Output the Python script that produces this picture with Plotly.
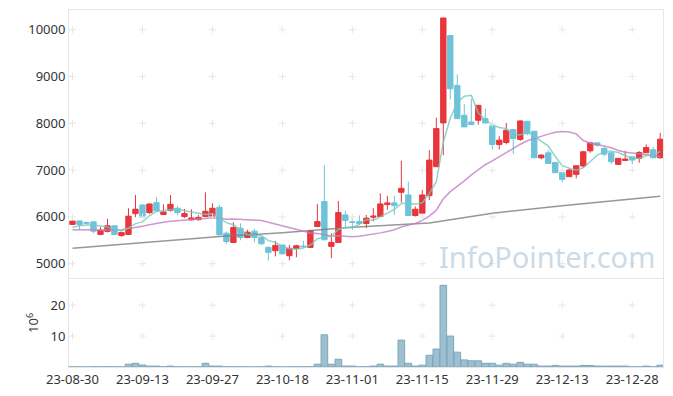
import plotly.graph_objects as go
import pandas as pd

dates = ["2023-08-30","2023-08-31","2023-09-01","2023-09-04","2023-09-05","2023-09-06","2023-09-07","2023-09-08",
         "2023-09-11","2023-09-12","2023-09-13","2023-09-14","2023-09-15","2023-09-18","2023-09-19","2023-09-20",
         "2023-09-21","2023-09-22","2023-09-25","2023-09-26","2023-09-27","2023-10-04","2023-10-05","2023-10-06",
         "2023-10-10","2023-10-11","2023-10-12","2023-10-13","2023-10-16","2023-10-17","2023-10-18","2023-10-19",
         "2023-10-20","2023-10-23","2023-10-24","2023-10-25","2023-10-26","2023-10-27","2023-10-30","2023-10-31",
         "2023-11-01","2023-11-02","2023-11-03","2023-11-06","2023-11-07","2023-11-08","2023-11-09","2023-11-10",
         "2023-11-13","2023-11-14","2023-11-15","2023-11-16","2023-11-17","2023-11-20","2023-11-21","2023-11-22",
         "2023-11-23","2023-11-24","2023-11-27","2023-11-28","2023-11-29","2023-11-30","2023-12-01","2023-12-04",
         "2023-12-05","2023-12-06","2023-12-07","2023-12-08","2023-12-11","2023-12-12","2023-12-13","2023-12-14",
         "2023-12-15","2023-12-18","2023-12-19","2023-12-20","2023-12-21","2023-12-22","2023-12-26","2023-12-27",
         "2023-12-28","2024-01-02","2024-01-03","2024-01-04","2024-01-05"]

open_ = [5840,5915,5880,5894,5625,5690,5810,5600,5625,6070,6255,6090,6305,6050,6141,6184,6007,5936,5940,6007,
         6000,6205,5652,5454,5759,5560,5695,5561,5348,5277,5398,5171,5327,5375,5348,5795,6327,5370,5455,6043,
         5895,5902,5859,5995,6008,6263,6299,6526,6469,6030,6079,6455,7072,8008,9873,8809,8171,8028,8064,8100,
         7944,7547,7589,7866,7653,8043,7830,7263,7369,7164,6951,6859,6908,7086,7412,7582,7462,7369,7121,7206,
         7284,7250,7369,7433,7263]
high = [5920,5920,5900,5900,5780,5960,5815,5680,6185,6470,6270,6290,6420,6270,6468,6230,6170,6163,6040,6524,
        6290,6255,5688,5886,5865,5725,5745,5580,5370,5490,5410,5405,5405,5490,5724,6277,7107,5650,6340,6130,
        6030,6030,6040,6185,6504,6447,6454,7199,6752,6221,6575,7426,8121,10250,9873,9043,8405,8525,8383,8312,
        7944,7724,8007,7866,8064,8043,7830,7340,7426,7164,6951,7036,7093,7412,7582,7582,7497,7369,7263,7412,
        7284,7405,7547,7497,7795]
low = [5830,5720,5830,5650,5620,5670,5610,5580,5620,5995,5995,6065,6115,6045,6113,6040,5975,5930,5922,5993,
       5985,5610,5425,5450,5500,5545,5455,5405,5070,5157,5192,5072,5136,5335,5334,5781,5500,5115,5450,5790,
       5720,5830,5760,5902,6008,6150,6044,6306,6030,6008,6065,6362,7072,7320,8511,8100,7923,7972,7972,8000,
       7440,7440,7547,7341,7625,7745,7263,7230,7143,6944,6739,6859,6823,7050,7369,7497,7298,7121,7121,7199,
       7121,7157,7369,7263,7249]
close = [5910,5837,5865,5695,5715,5810,5625,5665,6015,6165,6000,6275,6130,6105,6269,6092,6071,5978,5990,6120,
         6184,5617,5475,5773,5560,5674,5560,5426,5242,5391,5213,5327,5384,5365,5703,5901,5511,5455,6093,5923,
         5880,5859,5973,6015,6277,6299,6242,6611,6030,6164,6469,7213,7887,10250,8738,8100,7923,7972,8383,8007,
         7547,7639,7852,7674,8050,7781,7263,7320,7143,6944,6802,7001,7093,7391,7582,7532,7341,7178,7249,7235,
         7213,7377,7483,7263,7660]
# volume, millions of shares
volume = [0.05,0.04,0.03,0.06,0.05,0.08,0.05,0.04,0.9,1.2,0.65,0.3,0.3,0.08,0.3,0.06,0.05,0.05,0.06,1.2,
          0.3,0.3,0.08,0.06,0.05,0.05,0.04,0.06,0.3,0.05,0.04,0.05,0.06,0.05,0.08,0.9,10.4,0.9,2.5,0.3,
          0.3,0.05,0.08,0.3,0.9,0.3,0.3,8.7,1.2,0.3,0.6,3.8,5.8,26.4,10.0,4.8,2.3,2.0,2.0,1.2,
          1.2,0.6,1.2,0.9,1.5,0.9,0.9,0.3,0.3,0.5,0.3,0.3,0.3,0.5,0.5,0.3,0.3,0.3,0.3,0.3,
          0.05,0.05,0.3,0.05,0.6]
# moving-average values before the window is full
ma5_head = [5775, 5810, 5825, 5830]
ma20_head = [5723,5720,5718,5717,5716,5718,5720,5723,5745,5773,5800,5830,5865,5885,5905,5922,5935,5948,5957]
# 120-day MA at sample days
ma120_idx = [0, 12, 22, 30, 40, 51, 55, 60, 70, 84]
ma120_val = [5330, 5470, 5590, 5660, 5780, 5870, 5960, 6080, 6240, 6440]

price_ticks = [5000, 6000, 7000, 8000, 9000, 10000]
vol_ticks = [10, 20]

n = len(dates)
x = list(range(n))
cs = pd.Series(close)
ma5 = cs.rolling(5).mean().tolist()
ma5[:len(ma5_head)] = ma5_head
ma20 = cs.rolling(20).mean().tolist()
ma20[:len(ma20_head)] = ma20_head

tickvals = x[::10]
ticktext = [d[2:] for d in dates[::10]]

fig = go.Figure()
fig.add_trace(go.Scatter(x=ma120_idx, y=ma120_val, mode="lines",
                         line=dict(color="rgba(125,125,125,0.8)", width=1.5), hoverinfo="skip"))
fig.add_trace(go.Scatter(x=x, y=ma20, mode="lines",
                         line=dict(color="rgba(195,125,195,0.8)", width=1.5), hoverinfo="skip"))
fig.add_trace(go.Scatter(x=x, y=ma5, mode="lines",
                         line=dict(color="rgba(120,200,188,0.8)", width=1.5), hoverinfo="skip"))
fig.add_trace(go.Candlestick(x=x, open=open_, high=high, low=low, close=close,
                             increasing=dict(line=dict(color="#e8363b", width=1), fillcolor="#e8363b"),
                             decreasing=dict(line=dict(color="#6cc3da", width=1), fillcolor="#6cc3da"),
                             whiskerwidth=0))
fig.add_trace(go.Bar(x=x, y=volume, xaxis="x2", yaxis="y2",
                     marker=dict(color="#9cc0d0", line=dict(color="#7ea7bb", width=1))))

# grid crosses at tick intersections
gx, gy = [], []
for tv in tickvals:
    for pt in price_ticks:
        gx.append(tv); gy.append(pt)
fig.add_trace(go.Scatter(x=gx, y=gy, mode="markers", hoverinfo="skip",
                         marker=dict(symbol="cross-thin", size=5, line=dict(color="#e6e6e6", width=1))))
vx, vy = [], []
for tv in tickvals:
    for vt in vol_ticks:
        vx.append(tv); vy.append(vt)
fig.add_trace(go.Scatter(x=vx, y=vy, mode="markers", xaxis="x2", yaxis="y2", hoverinfo="skip",
                         marker=dict(symbol="cross-thin", size=5, line=dict(color="#e6e6e6", width=1))))

axis_font = dict(family="Noto Sans", size=13, color="#333333")
fig.update_layout(
    width=657, height=380,
    margin=dict(l=61, r=2, t=2, b=21),
    paper_bgcolor="white", plot_bgcolor="white",
    showlegend=False,
    bargap=0.05,
    boxgap=0.15, boxgroupgap=0.1,
    xaxis=dict(range=[-0.5, 84.4], showticklabels=False, showgrid=False, zeroline=False,
               rangeslider=dict(visible=False), anchor="y", matches="x2",
               showline=True, mirror=True, linecolor="#e6e6e6", linewidth=1,
               tickvals=tickvals, ticks=""),
    yaxis=dict(domain=[0.25, 1], range=[4700, 10420], tickvals=price_ticks, tickformat="d",
               showgrid=False, automargin=False,
               zeroline=False, tickfont=axis_font, showline=True, mirror=True,
               linecolor="#e6e6e6", linewidth=1, ticks=""),
    xaxis2=dict(range=[-0.5, 84.4], tickvals=tickvals, ticktext=ticktext, anchor="y2",
                showgrid=False, zeroline=False, tickfont=axis_font, showline=True, mirror=True,
                linecolor="#e6e6e6", linewidth=1, ticks="", automargin=False),
    yaxis2=dict(domain=[0, 0.247], range=[0, 28.5], tickvals=vol_ticks, showgrid=False,
                zeroline=False, tickfont=axis_font, showline=True, mirror=True, automargin=False,
                linecolor="#e6e6e6", linewidth=1, ticks="",
                title=dict(text="10<sup>6</sup>", font=axis_font, standoff=8)),
    annotations=[dict(text="InfoPointer.com", xref="paper", yref="paper", x=0.99, y=0.31,
                      xanchor="right", yanchor="middle", showarrow=False,
                      font=dict(family="Noto Sans", size=29, color="rgba(150,182,205,0.5)"))],
)

fig.write_html("out.html")
